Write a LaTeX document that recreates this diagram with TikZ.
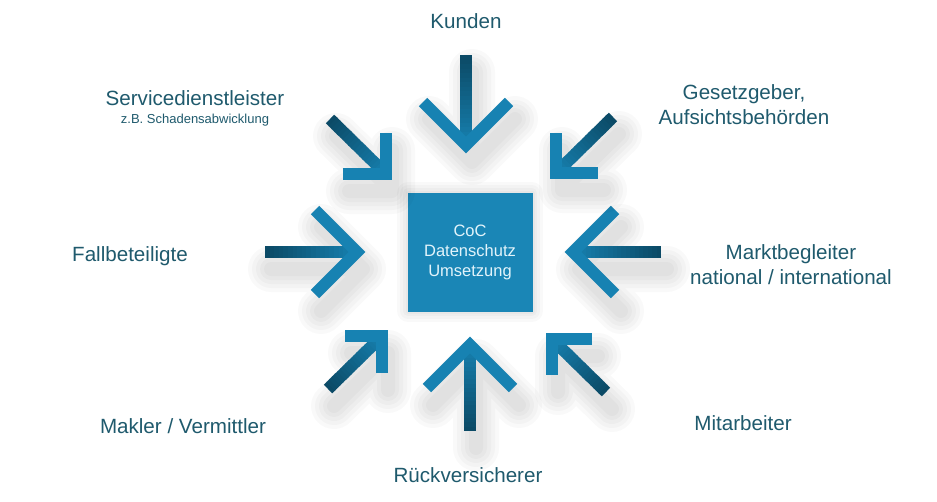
\documentclass[tikz,border=0pt]{standalone}
\usepackage{fontspec}
\setmainfont{Liberation Sans}
\usepackage{tikz}
\usetikzlibrary{calc}
\definecolor{tealdark}{HTML}{0B4A66}
\definecolor{teallight}{HTML}{1782B2}
\definecolor{cocblue}{HTML}{1A86B6}
\definecolor{cocwhite}{HTML}{E2F4FB}
\definecolor{labelblue}{HTML}{1F5A6D}
\tikzstyle{party}=[text=labelblue, font=\fontsize{20.6}{24.5}\selectfont, align=center, anchor=base, inner sep=0pt]
\tikzstyle{partysub}=[party, font=\fontsize{13}{15}\selectfont]
\tikzstyle{cocbox}=[fill=cocblue, minimum width=125pt, minimum height=119pt, text=cocwhite, font=\fontsize{16.5}{20}\selectfont, align=center]
\tikzstyle{shaft}=[line width=12pt]
\tikzstyle{arm}=[line width=12pt, draw=teallight, line join=miter]
\tikzstyle{softshadow}=[black, opacity=0.022, line cap=round, line join=round]
\newcommand{\inarrow}[1]{%
  \foreach \w in {46,38,30,22,14}
    \draw[softshadow, line width=\w pt] ([xshift=6pt,yshift=-17pt]#1T) -- ([xshift=6pt,yshift=-17pt]#1V)
      ([xshift=6pt,yshift=-17pt]#1A) -- ([xshift=6pt,yshift=-17pt]#1V) -- ([xshift=6pt,yshift=-17pt]#1B);
  \foreach \k in {0,...,19}{
    \pgfmathtruncatemacro{\mixp}{100-5*\k}
    \draw[shaft, draw=tealdark!\mixp!teallight] ($(#1T)!\k/20!(#1V)$) -- ($(#1T)!\k/20+0.06!(#1V)$);
  }
  \draw[arm] (#1A) -- (#1V) -- (#1B);
}

\begin{document}
\begin{tikzpicture}[x=1pt, y=-1pt]
    \useasboundingbox[fill=white] (0,0) rectangle (937,501);
    \coordinate (kundenT) at (466,55);
    \coordinate (kundenV) at (466,145);
    \coordinate (kundenA) at (423,102);
    \coordinate (kundenB) at (509,102);
    \coordinate (rueckT) at (470,431);
    \coordinate (rueckV) at (470,345);
    \coordinate (rueckA) at (427,388);
    \coordinate (rueckB) at (513,388);
    \coordinate (fallT) at (265,252);
    \coordinate (fallV) at (357,252);
    \coordinate (fallA) at (315,210);
    \coordinate (fallB) at (315,294);
    \coordinate (marktT) at (661,252);
    \coordinate (marktV) at (573,252);
    \coordinate (marktA) at (615,210);
    \coordinate (marktB) at (615,294);
    \coordinate (serviceT) at (330,119);
    \coordinate (serviceV) at (386,174);
    \coordinate (serviceA) at (343,174);
    \coordinate (serviceB) at (386,133);
    \coordinate (gesetzT) at (613,117);
    \coordinate (gesetzV) at (556,173);
    \coordinate (gesetzA) at (556,133);
    \coordinate (gesetzB) at (598,173);
    \coordinate (maklerT) at (328,389);
    \coordinate (maklerV) at (382,336);
    \coordinate (maklerA) at (345,336);
    \coordinate (maklerB) at (382,373);
    \coordinate (mitarbT) at (606,392);
    \coordinate (mitarbV) at (552,339);
    \coordinate (mitarbA) at (592,339);
    \coordinate (mitarbB) at (552,375);
    \foreach \w in {22,16,10,5}
        \draw[softshadow, line width=\w pt] (408,193) rectangle (532,311);
    \node[cocbox] (coc) at (470,252) {CoC\\Datenschutz\\Umsetzung};
    \inarrow{kunden}
    \inarrow{rueck}
    \inarrow{fall}
    \inarrow{markt}
    \inarrow{service}
    \inarrow{gesetz}
    \inarrow{makler}
    \inarrow{mitarb}
    \node[party] (kunden) at (466,28) {Kunden};
    \node[party] (service) at (195,105) {Servicedienstleister};
    \node[partysub] (servicesub) at (195,123) {z.B. Schadensabwicklung};
    \node[party] (gesetz) at (744,124) {Gesetzgeber,\\Aufsichtsbehörden};
    \node[party] (fall) at (130,261) {Fallbeteiligte};
    \node[party] (markt) at (791,284) {Marktbegleiter\\national / international};
    \node[party] (makler) at (183,433) {Makler / Vermittler};
    \node[party] (mitarb) at (743,430) {Mitarbeiter};
    \node[party] (rueck) at (468,482) {Rückversicherer};
\end{tikzpicture}
\end{document}
